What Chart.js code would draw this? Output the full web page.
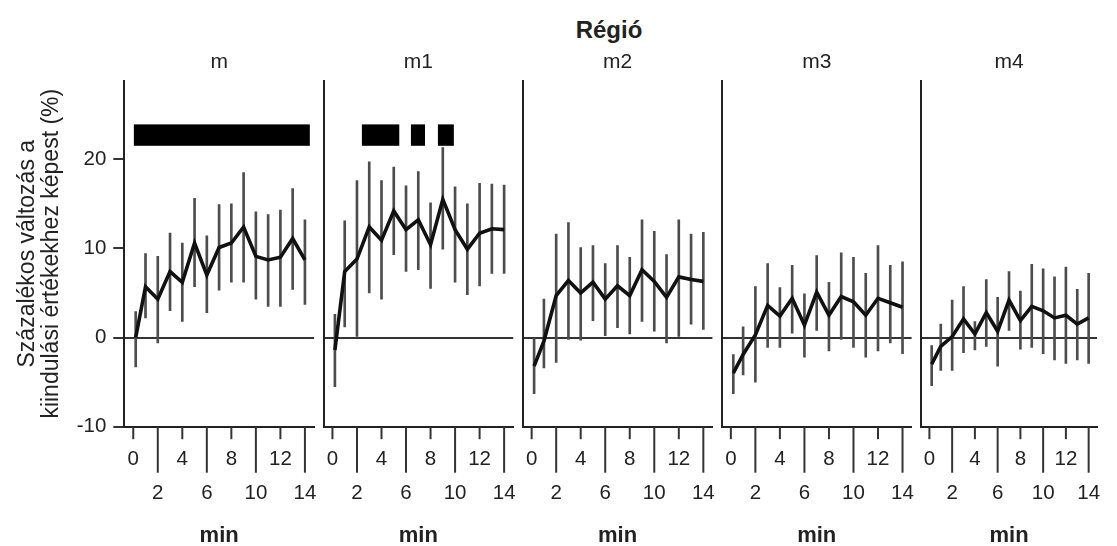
<!DOCTYPE html>
<html>
<head>
<meta charset="utf-8">
<script src="https://cdn.jsdelivr.net/npm/chart.js@4.4.1/dist/chart.umd.min.js"></script>
<style>
    html, body { margin: 0; padding: 0; background: #ffffff; }
    #wrap { position: relative; width: 1117px; height: 546px; overflow: hidden; }
    #wrap canvas { position: absolute; left: 0; top: 0; }
    #facet-title {
        position: absolute; top: 16px; left: 539px; width: 140px; text-align: center;
        font: bold 24px "Liberation Sans", Arial, sans-serif; color: #222;
    }
</style>
</head>
<body>
<div id="wrap">
    <div id="facet-title">Régió</div>
</div>
<script>
// Time points (min); the first sample sits just after 0
const minutes = [0.2, 1, 2, 3, 4, 5, 6, 7, 8, 9, 10, 11, 12, 13, 14];
const regions = ['m', 'm1', 'm2', 'm3', 'm4'];

// Mean % change from baseline and error bar ends, per region
const meanM  = [0, 5.7, 4.3, 7.4, 6.2, 10.6, 7.0, 10.1, 10.6, 12.4, 9.1, 8.7, 9.0, 11.1, 8.7];
const lowM   = [-3.3, 2.2, -0.6, 3.0, 1.8, 5.7, 2.8, 5.3, 6.2, 6.2, 4.3, 3.5, 3.5, 5.4, 3.7];
const highM  = [2.9, 9.4, 9.1, 11.7, 10.6, 15.6, 11.4, 14.9, 15.0, 18.5, 14.1, 13.8, 14.3, 16.7, 13.2];

const meanM1 = [-1.4, 7.4, 8.8, 12.4, 10.9, 14.2, 12.1, 13.2, 10.4, 15.5, 12.1, 9.9, 11.7, 12.2, 12.1];
const lowM1  = [-5.5, 1.2, 0, 5.0, 4.3, 9.3, 7.4, 7.6, 5.5, 9.9, 6.2, 4.8, 5.8, 7.2, 7.2];
const highM1 = [2.6, 13.1, 17.6, 19.7, 17.6, 19.1, 17.0, 18.6, 15.1, 21.3, 16.9, 15.0, 17.3, 17.2, 17.1];

const meanM2 = [-3.2, -0.4, 4.7, 6.4, 5.0, 6.2, 4.3, 5.8, 4.7, 7.6, 6.3, 4.5, 6.8, 6.5, 6.3];
const lowM2  = [-6.3, -3.4, -2.8, -0.2, -0.3, 1.9, 0.2, 1.1, 0.4, 1.8, 0.7, -0.6, 0.0, 1.5, 0.9];
const highM2 = [-0.1, 4.3, 11.6, 12.9, 10.1, 10.3, 8.3, 10.3, 9.0, 13.2, 11.9, 9.3, 13.2, 11.6, 11.8];

const meanM3 = [-4.0, -1.9, 0.3, 3.6, 2.4, 4.4, 1.4, 5.1, 2.5, 4.6, 4.0, 2.5, 4.4, 3.9, 3.4];
const lowM3  = [-6.3, -4.2, -5.0, -1.1, -1.1, 0.5, -2.2, 0.8, -1.5, -0.2, -1.1, -2.2, -1.5, -0.6, -1.8];
const highM3 = [-1.9, 1.2, 5.7, 8.3, 5.6, 8.1, 4.9, 9.2, 6.2, 9.5, 9.0, 7.2, 10.3, 8.1, 8.5];

const meanM4 = [-3.0, -1.0, 0.1, 2.1, 0.4, 2.8, 0.7, 4.2, 1.9, 3.5, 3.0, 2.2, 2.5, 1.5, 2.2];
const lowM4  = [-5.4, -3.7, -3.7, -1.7, -1.4, -1.0, -3.2, 0.8, -1.3, -1.1, -1.8, -2.5, -2.9, -2.5, -2.9];
const highM4 = [-0.9, 1.5, 4.2, 5.7, 1.8, 6.5, 4.5, 7.4, 5.2, 8.2, 7.7, 6.8, 7.9, 5.4, 7.2];

// Significance bars (start/end minute) and their vertical band
const sigM  = [[0.05, 14.4]];
const sigM1 = [[2.4, 5.45], [6.4, 7.55], [8.6, 9.9]];
const sigBand = [21.5, 23.9];

// Axes
const xTicks = [0, 2, 4, 6, 8, 10, 12, 14];
const yTicks = [-10, 0, 10, 20];
const xRange = [-0.73, 14.74];
const yRange = [-10, 28.8];
const yTitle = ['Százalékos változás a', 'kiindulási értékekhez képest (%)'];
const xTitle = 'min';

const means = [meanM, meanM1, meanM2, meanM3, meanM4];
const lows = [lowM, lowM1, lowM2, lowM3, lowM4];
const highs = [highM, highM1, highM2, highM3, highM4];
const sigs = [sigM, sigM1, [], [], []];

// Layout of the panel grid (pixels)
const W = 1117, H = 546;
const firstLeft = 124.3, panelStep = 199.2, plotWidth = 189.7;
const FONT = '"Liberation Sans", Arial, sans-serif';
const INK = '#222';

// Black significance rectangles, placed through the chart scales
const sigBarPlugin = {
    id: 'sigBars',
    afterDatasetsDraw(chart, args, opts) {
        const {ctx, scales: {x, y}} = chart;
        ctx.save();
        ctx.fillStyle = '#000';
        const top = y.getPixelForValue(opts.band[1]);
        const bottom = y.getPixelForValue(opts.band[0]);
        (opts.ranges || []).forEach(([s, e]) => {
            const x0 = x.getPixelForValue(s);
            const x1 = x.getPixelForValue(e);
            ctx.fillRect(x0, top, x1 - x0, bottom - top);
        });
        ctx.restore();
    }
};

// Alternating short/long tick marks under the x axis
const tickMarkPlugin = {
    id: 'tickMarks',
    afterDraw(chart) {
        const {ctx, chartArea, scales: {x}} = chart;
        ctx.save();
        ctx.strokeStyle = '#333';
        ctx.lineWidth = 2;
        xTicks.forEach((v, i) => {
            const px = x.getPixelForValue(v);
            const len = i % 2 === 0 ? 12.5 : 46;
            ctx.beginPath();
            ctx.moveTo(px, chartArea.bottom);
            ctx.lineTo(px, chartArea.bottom + len);
            ctx.stroke();
        });
        ctx.restore();
    }
};

regions.forEach((name, k) => {
    const canvas = document.createElement('canvas');
    canvas.width = W;
    canvas.height = H;
    document.getElementById('wrap').appendChild(canvas);

    const left = firstLeft + panelStep * k;
    const right = left + plotWidth;
    const first = k === 0;

    new Chart(canvas, {
        type: 'line',
        data: {
            datasets: [
                {
                    type: 'line',
                    data: minutes.map((m, i) => ({x: m, y: means[k][i]})),
                    borderColor: '#111',
                    borderWidth: 3.6,
                    pointRadius: 0,
                    tension: 0,
                    fill: false,
                    order: 0
                },
                {
                    type: 'bar',
                    data: minutes.map((m, i) => ({x: m, y: [lows[k][i], highs[k][i]]})),
                    backgroundColor: '#4d4d4d',
                    borderWidth: 0,
                    barThickness: 2,
                    order: 1
                }
            ]
        },
        plugins: [sigBarPlugin, tickMarkPlugin],
        options: {
            responsive: false,
            animation: false,
            layout: {
                padding: {left: first ? 0 : left, right: W - right, top: 49, bottom: 0}
            },
            plugins: {
                legend: {display: false},
                tooltip: {enabled: false},
                title: {
                    display: true,
                    fullSize: false,
                    text: name,
                    color: INK,
                    font: {family: FONT, size: 21, weight: 'normal', lineHeight: '26px'},
                    padding: {top: 0, bottom: 5.7}
                },
                sigBars: {ranges: sigs[k], band: sigBand}
            },
            scales: {
                x: {
                    type: 'linear',
                    min: xRange[0],
                    max: xRange[1],
                    offset: false,
                    afterBuildTicks: (scale) => { scale.ticks = xTicks.map(v => ({value: v})); },
                    afterFit: (scale) => { scale.height = 119.3; },
                    ticks: {
                        autoSkip: false,
                        maxRotation: 0,
                        minRotation: 0,
                        padding: 16,
                        color: INK,
                        font: {family: FONT, size: 20.5, lineHeight: '34px'},
                        callback: (v) => (xTicks.indexOf(v) % 2 === 0 ? String(v) : ['', String(v)])
                    },
                    grid: {display: true, drawOnChartArea: false, drawTicks: false},
                    border: {display: true, color: INK, width: 2},
                    title: {
                        display: true,
                        text: xTitle,
                        color: INK,
                        font: {family: FONT, size: 22, weight: 'bold', lineHeight: '20px'},
                        padding: {top: 0, bottom: 0}
                    }
                },
                y: {
                    type: 'linear',
                    min: yRange[0],
                    max: yRange[1],
                    afterBuildTicks: (scale) => { scale.ticks = yTicks.map(v => ({value: v})); },
                    afterFit: (scale) => { scale.width = first ? firstLeft : 0; },
                    ticks: {
                        display: first,
                        padding: 7,
                        color: INK,
                        font: {family: FONT, size: 20.5}
                    },
                    grid: {
                        drawOnChartArea: true,
                        drawTicks: first,
                        tickLength: 11,
                        lineWidth: 2,
                        tickColor: '#333',
                        color: (c) => (c.tick && c.tick.value === 0 ? '#333' : 'rgba(0,0,0,0)')
                    },
                    border: {display: true, color: INK, width: 2},
                    title: {
                        display: first,
                        text: yTitle,
                        color: INK,
                        font: {family: FONT, size: 23, lineHeight: '24px'},
                        padding: {top: 16, bottom: 0}
                    }
                }
            }
        }
    });
});
</script>
</body>
</html>
